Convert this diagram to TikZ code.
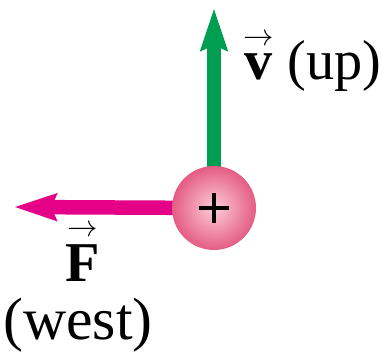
\documentclass[tikz,border=0pt]{standalone}
\usepackage{amsmath}
\usepackage{fontspec}
\setmainfont{Liberation Serif}
\usepackage{tikz}
\usetikzlibrary{arrows.meta}

\definecolor{velgreen}{RGB}{0,158,80}
\definecolor{forcepink}{RGB}{228,0,135}
\definecolor{ballrim}{RGB}{228,92,132}
\definecolor{ballcore}{RGB}{253,205,214}

% bold letter with a vector arrow
\newcommand{\vecbf}[1]{$\overset{\scriptscriptstyle\rightarrow}{\textbf{#1}}$}

\begin{document}
\begin{tikzpicture}[
			x=0.02cm, y=-0.02cm,
			every node/.style={
					font=\fontsize{32}{38}\selectfont,
					inner sep=0pt
				},
			vecarrow/.style={
					line width=0.29cm,
					-{Stealth[length=0.84cm, width=0.52cm, inset=0.1cm]}
				},
			charge/.style={
					circle,
					minimum size=1.68cm,
					inner color=ballcore,
					outer color=ballrim
				}
		]

		\useasboundingbox (0,0) rectangle (383,354);

		\coordinate (center) at (214,208);
		\coordinate (vtip) at (214,8);
		\coordinate (ftip) at (14,207);

		\draw[vecarrow,draw=velgreen,fill=velgreen] (center) -- (vtip);
		\draw[vecarrow,draw=forcepink,fill=forcepink] (center) -- (ftip);

		\node (ball) [charge] at (center) {};
		\draw[line width=0.08cm] ([xshift=-0.3cm]ball.center) -- ([xshift=0.3cm]ball.center);
		\draw[line width=0.08cm] ([yshift=-0.3cm]ball.center) -- ([yshift=0.3cm]ball.center);

		\node (vlabel) [anchor=base east] at (382,80)
		{\vecbf{v} (up)};

		\node (flabel) [anchor=base] at (83,282)
		{\vecbf{F}};
		\node (westlabel) [anchor=base, font=\fontsize{34}{40}\selectfont] at (78,340)
		{(west)};

	\end{tikzpicture}
\end{document}
